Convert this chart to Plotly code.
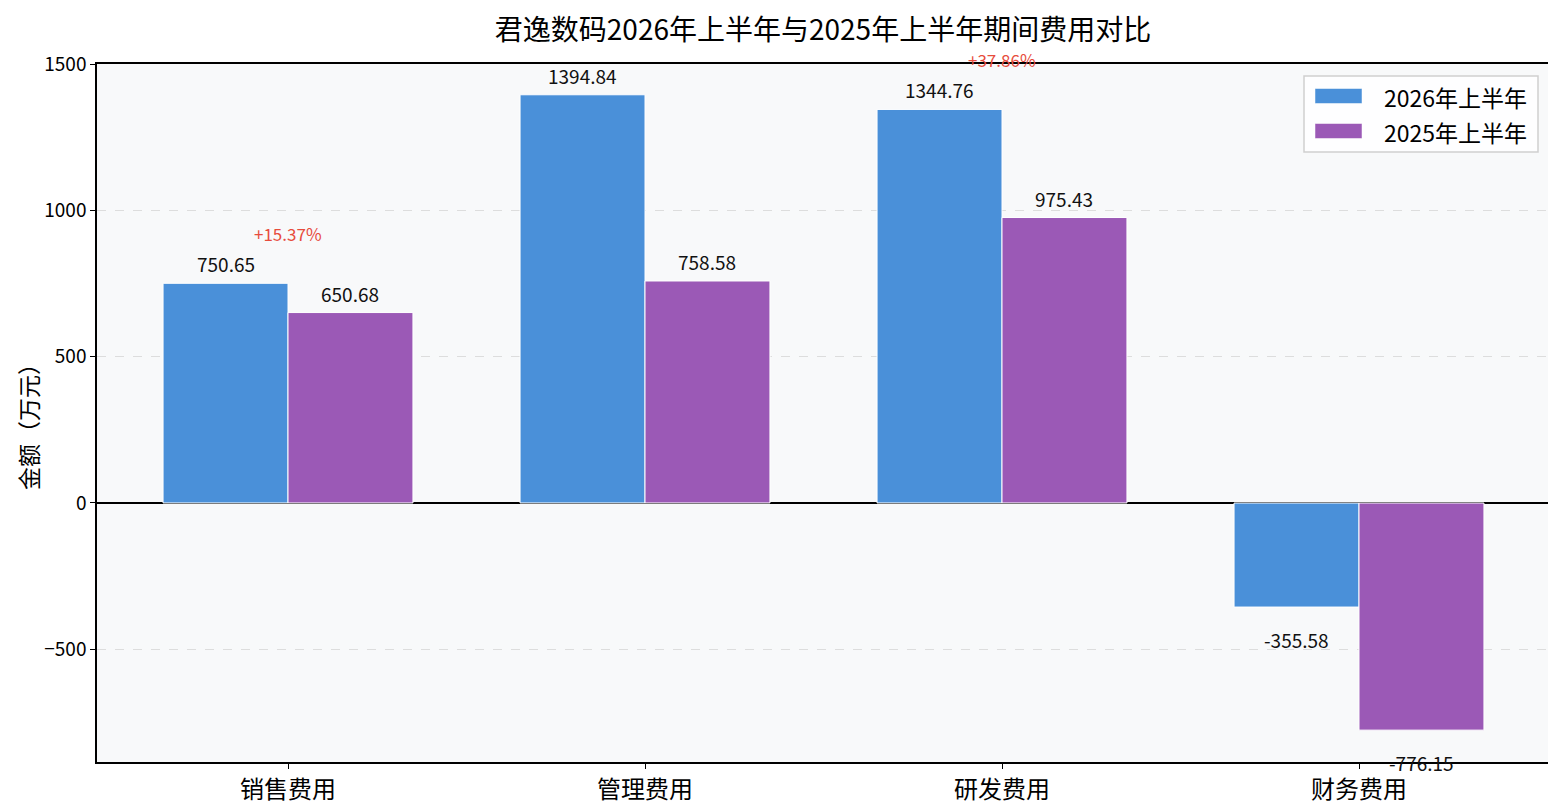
import plotly.graph_objects as go

categories = ["销售费用", "管理费用", "研发费用", "财务费用"]
values_2026 = [750.65, 1394.84, 1344.76, -355.58]
values_2025 = [650.68, 758.58, 975.43, -776.15]
series_names = ["2026年上半年", "2025年上半年"]
pct_labels = ["+15.37%", None, "+37.86%", None]

FONT = "Noto Sans CJK SC, Noto Sans, sans-serif"
C26 = "#4A90D9"
C25 = "#9B59B6"
colors = [C26, C25]

# page has an 8px body margin; lay out in screen pixels and compensate
OFF = 8
W, H = 1556 - OFF, 808 - OFF
L, R, T, B = 97 - OFF, 6, 64 - OFF, 46
PW, PH = W - L - R, H - T - B


def px(x):  # screen x -> paper
    return (x - OFF - L) / PW


def py(y):  # screen y -> paper
    return (H - B - (y - OFF)) / PH


fig = go.Figure()
for name, vals, col in zip(series_names, [values_2026, values_2025], colors):
    fig.add_trace(go.Bar(x=categories, y=vals, name=name, showlegend=False,
                         marker=dict(color=col, line=dict(color="white", width=1))))

ann = []
off = 0.175 * PW / 4.07
for i, c in enumerate(categories):
    for v, sh in ((values_2026[i], -off), (values_2025[i], off)):
        if v >= 0:
            ann.append(dict(x=c, y=v, text=f"{v:.2f}", xshift=sh, yshift=4,
                            yanchor="bottom", showarrow=False,
                            font=dict(size=19, color="#111", family=FONT)))
        else:
            ann.append(dict(x=c, y=v, text=f"{v:.2f}", xshift=sh, yshift=-17,
                            yanchor="top", showarrow=False,
                            font=dict(size=19, color="#111", family=FONT)))
    if pct_labels[i]:
        ann.append(dict(x=c, y=max(values_2026[i], values_2025[i]), text=pct_labels[i],
                        yshift=50, yanchor="middle", showarrow=False,
                        font=dict(size=17, color="#E74C3C", family=FONT)))

# manual legend (box, swatches, labels)
shapes = [dict(type="rect", xref="paper", yref="paper",
               x0=px(1304), x1=px(1538), y0=py(152), y1=py(76),
               line=dict(color="#D0D0D0", width=1.5), fillcolor="rgba(255,255,255,0.85)",
               layer="above")]
for k, (name, col) in enumerate(zip(series_names, colors)):
    yc = 96 + 35 * k
    shapes.append(dict(type="rect", xref="paper", yref="paper",
                       x0=px(1315), x1=px(1362), y0=py(yc + 7.5), y1=py(yc - 7.5),
                       line=dict(color="white", width=0.5), fillcolor=col, layer="above"))
    ann.append(dict(xref="paper", yref="paper", x=px(1382), y=py(yc + 1),
                    xanchor="left", yanchor="middle", text=name, showarrow=False,
                    font=dict(size=23, family=FONT, color="black")))

ann.append(dict(xref="paper", yref="paper", x=px(28), y=py(421), text="金额（万元）",
                textangle=-90, showarrow=False, xanchor="center", yanchor="middle",
                font=dict(size=23, family=FONT, color="black")))

fig.update_layout(
    width=W, height=H,
    margin=dict(l=L, r=R, t=T, b=B, autoexpand=False),
    paper_bgcolor="white", plot_bgcolor="#F8F9FA",
    barmode="group", bargap=0.3, bargroupgap=0,
    font=dict(family=FONT, color="black"),
    showlegend=False,
    title=dict(text="君逸数码2026年上半年与2025年上半年期间费用对比",
               x=(823 - OFF) / W, xanchor="center", y=1 - (30 - OFF) / H, yanchor="middle",
               font=dict(size=28, family=FONT, color="black")),
    annotations=ann,
    shapes=shapes,
    xaxis=dict(range=[-0.535, 3.535], showline=True, linecolor="black", linewidth=1.5,
               mirror=True, ticks="outside", ticklen=5, tickcolor="black", automargin=False,
               tickfont=dict(size=24, family=FONT), showgrid=False),
    yaxis=dict(range=[-885, 1500], tickvals=[-500, 0, 500, 1000, 1500],
               showline=True, linecolor="black", linewidth=1.5, mirror=True,
               ticks="outside", ticklen=5, tickcolor="black", automargin=False,
               tickfont=dict(size=19, family=FONT),
               showgrid=True, gridcolor="#DDDDDD", griddash="dash", gridwidth=1,
               zeroline=True, zerolinecolor="black", zerolinewidth=1.5),
)

fig.write_html("out.html")
